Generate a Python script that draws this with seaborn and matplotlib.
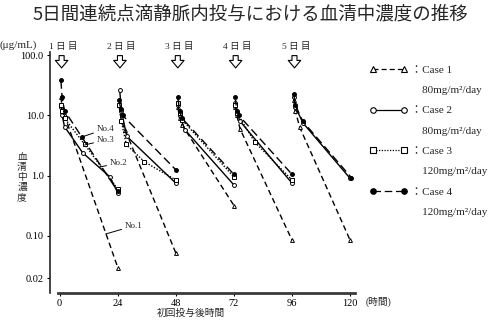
import numpy as np
import pandas as pd
import matplotlib
matplotlib.use("Agg")
import matplotlib.pyplot as plt
import seaborn as sns
from matplotlib.lines import Line2D
from matplotlib.ticker import NullLocator

sns.set_theme(style="ticks")
plt.rcParams['font.family'] = ['Liberation Serif', 'Noto Sans CJK JP', 'DejaVu Sans']

# ---------------- data ----------------
case_names = ["Case 1", "Case 2", "Case 3", "Case 4"]
case_doses = ["80mg/m²/day", "80mg/m²/day", "120mg/m²/day", "120mg/m²/day"]

case1_hours = [0.5, 1, 2, 24, 24.5, 25.5, 27, 48, 48.8, 49.5, 50.5, 72,
               72.5, 73.2, 74.5, 96, 96.7, 97.3, 99.2, 120]
case1_conc = [20, 14, 10, 0.03, 15, 8, 5.8, 0.052, 14, 9, 7, 0.32,
              14, 10, 6, 0.085, 18, 12, 6.3, 0.085]
case1_day = [1, 1, 1, 1, 2, 2, 2, 2, 3, 3, 3, 3, 4, 4, 4, 4, 5, 5, 5, 5]

case2_hours = [0.5, 1, 2, 9.5, 20.7, 24, 24.8, 25.5, 27.7, 48, 48.8, 49.5, 51.7, 72,
               72.5, 73.2, 74.5, 96, 96.7, 97.3, 100.5, 120]
case2_conc = [14, 10, 6.5, 2.4, 0.96, 0.52, 26, 12, 4.5, 0.75, 15, 10, 5.8, 0.7,
              16, 11, 8, 0.75, 20, 14, 7.5, 0.9]
case2_day = [1, 1, 1, 1, 1, 1, 2, 2, 2, 2, 3, 3, 3, 3, 4, 4, 4, 4, 5, 5, 5, 5]

case3_hours = [0.5, 1, 2, 10.3, 24, 24.5, 25.5, 27.5, 35, 48, 48.8, 49.5, 50.5, 72,
               72.5, 73.2, 80.6, 96]
case3_conc = [15, 12, 9, 3.3, 0.6, 15, 8, 3.3, 1.7, 0.85, 16, 11, 8.5, 0.95,
              15, 11, 3.6, 0.85]
case3_day = [1, 1, 1, 1, 1, 2, 2, 2, 2, 2, 3, 3, 3, 3, 4, 4, 4, 4]

case4_hours = [0.5, 1, 2, 9.1, 24, 24.5, 25.2, 26, 48, 48.8, 49.5, 50.5, 72,
               72.5, 73.2, 74, 96, 96.7, 97.3, 100.4, 120.5]
case4_conc = [38, 20, 12, 4.4, 0.55, 18, 13, 10, 1.25, 20, 12, 9, 1.05,
              20, 12, 10, 1.05, 23, 15, 8, 0.93]
case4_day = [1, 1, 1, 1, 1, 2, 2, 2, 2, 3, 3, 3, 3, 4, 4, 4, 4, 5, 5, 5, 5]

arrow_hours = [0.8, 24.9, 48.8, 72.7, 97.0]
day_labels = ["1 日 目", "2 日 目", "3 日 目", "4 日 目", "5 日 目"]

x_ticks = [0, 24, 48, 72, 96, 120]
y_ticks = [0.02, 0.1, 1, 10, 100]
y_ticklabels = ["0.02", "0.10", "1.0", "10.0", "100.0"]

no_labels = ["No.4", "No.3", "No.2", "No.1"]
no_points = [(9.1, 4.38), (10.3, 3.23), (16.5, 1.39), (19.0, 0.108)]
no_text_pos = [(15.3, 5.95), (15.3, 3.91), (20.7, 1.62), (26.9, 0.147)]

ylabel_chars = ["血", "清", "中", "濃", "度"]

# ---------------- table ----------------
frames = []
for name, h, c, d in zip(case_names,
                         [case1_hours, case2_hours, case3_hours, case4_hours],
                         [case1_conc, case2_conc, case3_conc, case4_conc],
                         [case1_day, case2_day, case3_day, case4_day]):
    frames.append(pd.DataFrame({"case": name, "hour": h, "conc": c, "day": d}))
df = pd.concat(frames, ignore_index=True)

styles = {
    "Case 1": dict(linestyle=(0, (4, 2.5)), marker="^", markerfacecolor="white"),
    "Case 2": dict(linestyle="-", marker="o", markerfacecolor="white"),
    "Case 3": dict(linestyle=(0, (1, 1.2)), marker="s", markerfacecolor="white"),
    "Case 4": dict(linestyle=(0, (6, 3)), marker="o", markerfacecolor="black"),
}

fig = plt.figure(figsize=(5, 3.25), dpi=100)
ax = fig.add_axes([0.1, 0.0985, 0.61, 0.7415])
ax.set_yscale("log")

for (case, day), sub in df.groupby(["case", "day"]):
    st = styles[case]
    sns.lineplot(data=sub, x="hour", y="conc", ax=ax, color="black",
                 linewidth=1.0, estimator=None, sort=False, legend=False,
                 markersize=2.8, markeredgecolor="black", markeredgewidth=0.7,
                 **st)

ax.set_xlim(-4, 122)
ax.set_ylim(0.01135, 112.5)
ax.set_xticks(x_ticks)
ax.set_xticklabels([str(t) for t in x_ticks])
ax.set_yticks(y_ticks)
ax.set_yticklabels(y_ticklabels)
ax.yaxis.set_minor_locator(NullLocator())
ax.xaxis.set_minor_locator(NullLocator())
ax.tick_params(axis="both", which="major", length=2.5, width=0.8,
               labelsize=7.5, pad=2, colors="black")
ax.set_xlabel("")
ax.set_ylabel("")
for s in ["top", "right"]:
    ax.spines[s].set_visible(False)
ax.spines["left"].set_linewidth(1.2)
ax.spines["bottom"].set_linewidth(2.0)
ax.spines["bottom"].set_color("#3a3a3a")
ax.spines["bottom"].set_bounds(-0.8, 122)

# day labels and arrows
xt = ax.get_xaxis_transform()
for h, lab in zip(arrow_hours, day_labels):
    ax.text(h + 0.6, 1.021, lab, transform=xt, ha="center", va="center",
            fontsize=6.8, clip_on=False)
    ax.annotate("", xy=(h, 0.934), xytext=(h, 0.985), xycoords=xt,
                textcoords=xt, annotation_clip=False,
                arrowprops=dict(arrowstyle="simple,head_length=0.45,head_width=0.75,tail_width=0.3",
                                fc="white", ec="black", lw=0.8,
                                shrinkA=0, shrinkB=0))

# No. annotations
for lab, pt, tp in zip(no_labels, no_points, no_text_pos):
    ax.annotate(lab, xy=pt, xytext=tp, ha="left", va="center", fontsize=6.5,
                arrowprops=dict(arrowstyle="-", lw=0.7, color="black",
                                shrinkA=0, shrinkB=0))

# texts
fig.text(0.5, 1 - 14 / 325, "5日間連続点滴静脈内投与における血清中濃度の推移",
         ha="center", va="center", fontsize=13.3,
         family=["Noto Sans CJK JP", "DejaVu Sans"])
fig.text(0.0, 1 - 45 / 325, "(μg/mL)", ha="left", va="center", fontsize=8)
for i, ch in enumerate(ylabel_chars):
    fig.text(22 / 500, 1 - (157 + 10 * i) / 325, ch, ha="center", va="center",
             fontsize=7, family=["Noto Sans CJK JP"])
fig.text(191 / 500, 1 - 313 / 325, "初回投与後時間", ha="center", va="center",
         fontsize=7, family=["Noto Sans CJK JP"])
fig.text(366 / 500, 1 - 302 / 325, "(時間)", ha="left", va="center", fontsize=7)

# legend
handles, labels = [], []
for name, dose in zip(case_names, case_doses):
    st = styles[name]
    handles.append(Line2D([], [], color="black", linewidth=0.9,
                          linestyle=st["linestyle"], marker=st["marker"],
                          markerfacecolor=st["markerfacecolor"],
                          markeredgecolor="black", markersize=4,
                          markeredgewidth=0.8))
    labels.append("：" + name)
    handles.append(Line2D([], [], linestyle="none", marker=None))
    labels.append("\u3000" + dose)
fig.legend(handles, labels, loc="upper left",
           bbox_to_anchor=(370 / 500, 1 - 65 / 325), frameon=False,
           numpoints=2, handlelength=3.4, handletextpad=0.3,
           labelspacing=0.95, borderpad=0, borderaxespad=0, fontsize=8)

fig.savefig("out.png", dpi=100)
